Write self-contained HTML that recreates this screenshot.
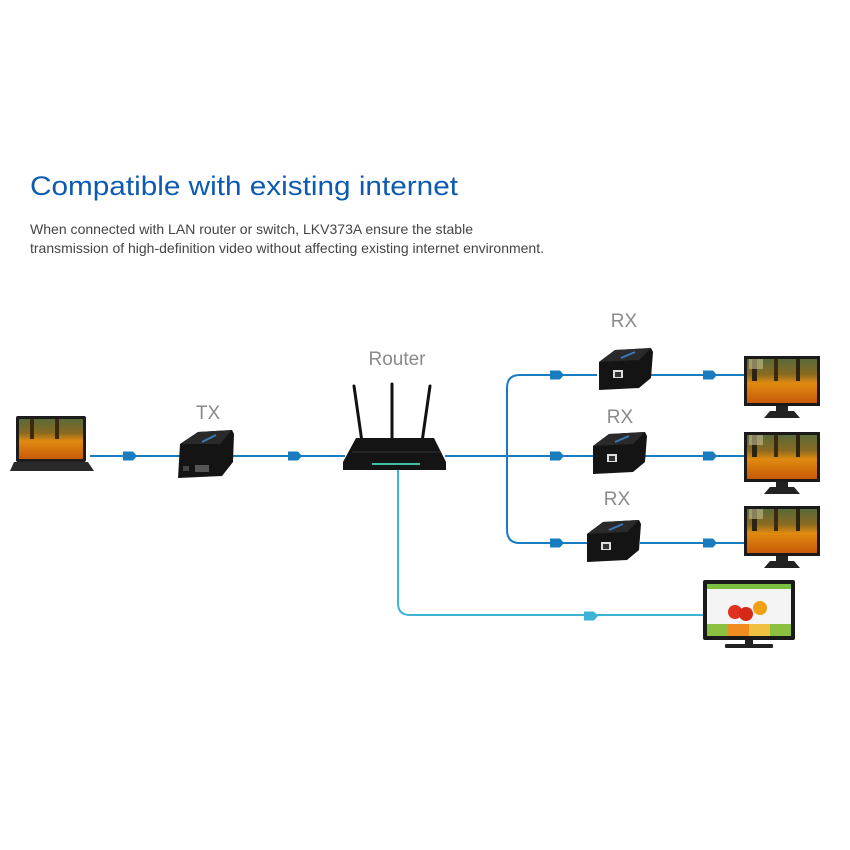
<!DOCTYPE html>
<html><head><meta charset="utf-8"><style>html,body{margin:0;padding:0;background:#fff}svg{display:block}</style></head>
<body>
<svg width="850" height="850" viewBox="0 0 850 850" xmlns="http://www.w3.org/2000/svg">
<defs>
<linearGradient id="aut" x1="0" y1="0" x2="0" y2="1">
<stop offset="0" stop-color="#5a6a3a"/><stop offset="0.35" stop-color="#8a6a20"/><stop offset="0.55" stop-color="#e08a10"/><stop offset="1" stop-color="#c85a08"/>
</linearGradient>
<g id="mon">
<rect x="0" y="0" width="76" height="50" fill="#1a1a1a"/>
<rect x="3" y="3" width="70" height="44" fill="url(#aut)"/>
<rect x="8" y="3" width="5" height="22" fill="#2a2410"/><rect x="30" y="3" width="4" height="22" fill="#3a2a10"/><rect x="52" y="3" width="4" height="22" fill="#2a2410"/>
<rect x="5" y="3" width="14" height="10" fill="#c8c090" opacity="0.6"/>
<rect x="32" y="50" width="12" height="6" fill="#222"/>
<path d="M20 62 L26 55 L50 55 L56 62 Z" fill="#222"/>
</g>
<g id="box">
<path d="M4 14 L20 2 L56 0 L58 4 L56 30 L44 40 L4 42 Z" fill="#141414"/>
<path d="M4 14 L20 2 L56 0 L44 12 Z" fill="#2a2a2a"/>
<rect x="18" y="22" width="10" height="8" fill="#ddd"/><rect x="20" y="24" width="6" height="5" fill="#333"/>
<line x1="26" y1="10" x2="40" y2="4" stroke="#3a7ab8" stroke-width="2"/>
</g>
<path id="arr" d="M0 -4.5 L10 -4.5 L14 0 L10 4.5 L0 4.5 Z"/>
</defs>

<text x="30" y="195" font-family="Liberation Sans, sans-serif" font-size="27" fill="#0d5bb0" textLength="428" lengthAdjust="spacingAndGlyphs">Compatible with existing internet</text>
<text x="30" y="234" font-family="Liberation Sans, sans-serif" font-size="14" fill="#444" textLength="443" lengthAdjust="spacingAndGlyphs">When connected with LAN router or switch, LKV373A ensure the stable</text>
<text x="30" y="253" font-family="Liberation Sans, sans-serif" font-size="14" fill="#444" textLength="514" lengthAdjust="spacingAndGlyphs">transmission of high-definition video without affecting existing internet environment.</text>

<g font-family="Liberation Sans, sans-serif" font-size="19" fill="#8a8a8a" text-anchor="middle">
<text x="397" y="365">Router</text>
<text x="208" y="419">TX</text>
<text x="624" y="327">RX</text>
<text x="620" y="423">RX</text>
<text x="617" y="505">RX</text>
</g>

<g stroke="#1a7cc0" stroke-width="2" fill="none">
<line x1="90" y1="456" x2="345" y2="456"/>
<line x1="445" y1="456" x2="745" y2="456"/>
<path d="M597 375 L520 375 Q507 375 507 388 L507 530 Q507 543 520 543 L590 543"/>
<line x1="650" y1="375" x2="745" y2="375"/>
<line x1="640" y1="543" x2="745" y2="543"/>
</g>
<path d="M398 470 L398 603 Q398 615 410 615 L705 615" stroke="#3db3d6" stroke-width="2" fill="none"/>
<g fill="#1a7cc0">
<use href="#arr" x="123" y="456"/><use href="#arr" x="288" y="456"/>
<use href="#arr" x="550" y="375"/><use href="#arr" x="550" y="456"/><use href="#arr" x="550" y="543"/>
<use href="#arr" x="703" y="375"/><use href="#arr" x="703" y="456"/><use href="#arr" x="703" y="543"/>
</g>
<use href="#arr" x="584" y="616" fill="#3db3d6"/>

<rect x="16" y="416" width="70" height="46" rx="2" fill="#1c1c1c"/>
<rect x="19" y="419" width="64" height="40" fill="url(#aut)"/>
<rect x="30" y="419" width="4" height="20" fill="#3a2a10"/><rect x="55" y="419" width="4" height="20" fill="#3a2a10"/>
<path d="M14 462 L88 462 L94 471 L10 471 Z" fill="#2a2a2a"/>

<path d="M180 444 L198 432 L232 430 L234 434 L233 462 L222 476 L178 478 Z" fill="#141414"/>
<path d="M180 444 L198 432 L232 430 L220 444 Z" fill="#2a2a2a"/>
<rect x="195" y="465" width="14" height="7" fill="#555"/><rect x="183" y="466" width="6" height="5" fill="#444"/>
<line x1="202" y1="442" x2="216" y2="435" stroke="#3a7ab8" stroke-width="2"/>

<g stroke="#111" stroke-width="3" stroke-linecap="round">
<line x1="354" y1="386" x2="362" y2="442"/><line x1="392" y1="384" x2="392" y2="440"/><line x1="430" y1="386" x2="422" y2="442"/>
</g>
<path d="M356 438 L434 438 L446 462 L446 470 L343 470 L343 462 Z" fill="#141414"/>
<line x1="352" y1="452" x2="440" y2="452" stroke="#333" stroke-width="1"/>
<g fill="#3cc0a0"><rect x="372" y="463" width="48" height="2"/></g>

<use href="#box" x="595" y="348"/>
<use href="#box" x="589" y="432"/>
<use href="#box" x="583" y="520"/>

<use href="#mon" x="744" y="356"/>
<use href="#mon" x="744" y="432"/>
<use href="#mon" x="744" y="506"/>

<rect x="703" y="580" width="92" height="60" rx="2" fill="#1a1a1a"/>
<rect x="707" y="584" width="84" height="52" fill="#f4f4f4"/>
<rect x="707" y="584" width="84" height="5" fill="#7cc040"/>
<circle cx="735" cy="612" r="7" fill="#e03020"/><circle cx="746" cy="614" r="7" fill="#d82818"/><circle cx="760" cy="608" r="7" fill="#f0a010"/>
<rect x="707" y="624" width="21" height="12" fill="#8cc040"/><rect x="728" y="624" width="21" height="12" fill="#f08c20"/><rect x="749" y="624" width="21" height="12" fill="#f0c040"/><rect x="770" y="624" width="21" height="12" fill="#8cc040"/>
<rect x="745" y="640" width="8" height="5" fill="#222"/>
<rect x="725" y="644" width="48" height="4" rx="1" fill="#222"/>
</svg>
</body></html>
